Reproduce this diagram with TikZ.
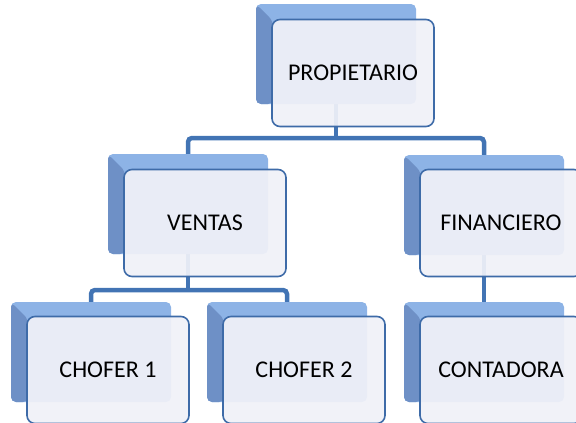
\documentclass[tikz,border=0pt]{standalone}
\usepackage{fontspec}
\setmainfont{Carlito}
\usetikzlibrary{backgrounds}
\definecolor{linkblue}{HTML}{4274B4}
\definecolor{backblue}{HTML}{8DB3E6}
\definecolor{bevelblue}{HTML}{6E90C6}
\definecolor{frontfill}{HTML}{F0F1F8}
\definecolor{frontline}{HTML}{3E6BA8}
\tikzset{
  backbox/.style={rectangle, rounded corners=5pt, inner sep=0pt,
    minimum width=160pt, minimum height=100pt, fill=backblue,
    path picture={\fill[bevelblue] (path picture bounding box.north west)
      -- ++(17pt,-17pt) -- ([xshift=17pt]path picture bounding box.south west)
      -- (path picture bounding box.south west) -- cycle;}},
  frontbox/.style={rectangle, rounded corners=8pt, draw=frontline,
    line width=1.6pt, fill=frontfill, fill opacity=0.93, text opacity=1,
    draw opacity=1, minimum width=162pt, minimum height=107pt,
    font=\fontsize{24}{28}\selectfont},
  link/.style={draw=linkblue, line width=4.5pt, rounded corners=4pt}
}
\begin{document}
\begin{tikzpicture}[x=1pt,y=-1pt]
      \useasboundingbox (0,0) rectangle (576,423);
      \node[backbox] (propB) at (336,54) {};
      \node[frontbox] (prop) at (353,73) {PROPIETARIO};
      \node[backbox] (ventasB) at (188,204) {};
      \node[frontbox] (ventas) at (205,223) {VENTAS};
      \node[backbox] (finanB) at (484,205) {};
      \node[frontbox] (finan) at (501,223) {FINANCIERO};
      \node[backbox] (chofer1B) at (91,352) {};
      \node[frontbox] (chofer1) at (108,370) {CHOFER 1};
      \node[backbox] (chofer2B) at (287,352) {};
      \node[frontbox] (chofer2) at (304,370) {CHOFER 2};
      \node[backbox] (contadB) at (484,352) {};
      \node[frontbox] (contad) at (501,370) {CONTADORA};
      \coordinate (bar1) at (336,138);
      \coordinate (bar2) at (188,290);
      \begin{pgfonlayer}{background}
        \draw[link] (propB) -- (bar1);
        \draw[link] (ventasB) |- (bar1) -| (finanB);
        \draw[link] (finanB) -- (contadB);
        \draw[link] (ventasB) -- (bar2);
        \draw[link] (chofer1B) |- (bar2) -| (chofer2B);
      \end{pgfonlayer}
    \end{tikzpicture}
\end{document}
